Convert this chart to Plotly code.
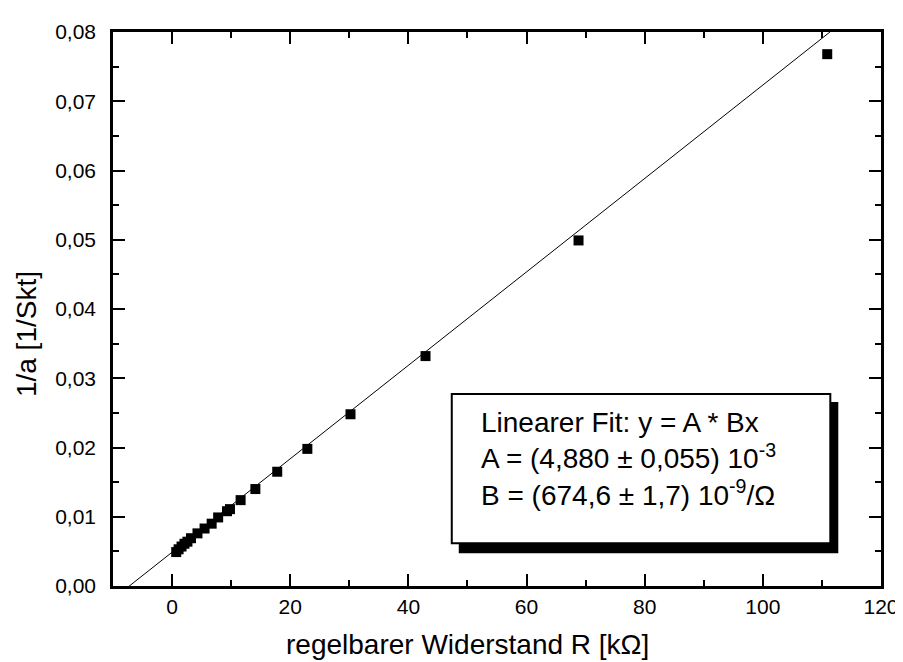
import plotly.graph_objects as go

# Measured data (R in kOhm, 1/a in 1/Skt)
r_kohm = [0.7, 1.1, 1.6, 2.1, 2.6, 3.2, 4.3, 5.5, 6.7, 7.8, 9.3, 9.8,
          11.6, 14.1, 17.8, 22.9, 30.2, 42.9, 68.8, 110.9]
inv_a = [0.0049, 0.0053, 0.0057, 0.0061, 0.0064, 0.0069, 0.0076, 0.0083,
         0.0090, 0.0099, 0.0108, 0.0111, 0.0124, 0.0140, 0.0165, 0.0198,
         0.0248, 0.0332, 0.0499, 0.0768]

# Linear fit parameters as given on the chart: y = A + B*x
fit_A = 4.880e-3
fit_B = 674.6e-9 * 1e3   # per kOhm
fit_x = [-7.3, 113.0]
fit_y = [fit_A + fit_B * x for x in fit_x]

x_ticks = [0, 20, 40, 60, 80, 100, 120]
y_ticks = [0.00, 0.01, 0.02, 0.03, 0.04, 0.05, 0.06, 0.07, 0.08]

legend_lines = [
    "Linearer Fit: y = A * Bx",
    "A = (4,880 ± 0,055) 10<sup>-3</sup>",
    "B = (674,6 ± 1,7) 10<sup>-9</sup>/Ω",
]

FONT = "Liberation Sans, Arial, sans-serif"

fig = go.Figure()
fig.add_trace(go.Scatter(x=fit_x, y=fit_y, mode="lines",
                         line=dict(color="black", width=1), hoverinfo="skip"))
fig.add_trace(go.Scatter(x=r_kohm, y=inv_a, mode="markers",
                         marker=dict(symbol="square", size=10, color="black",
                                     line=dict(width=0))))

axis_common = dict(
    showgrid=False, zeroline=False, showline=True, linecolor="black",
    linewidth=2.5, mirror="ticks", ticks="inside", ticklen=12, tickwidth=2,
    tickcolor="black", tickfont=dict(family=FONT, size=21, color="black"),
)

fig.update_xaxes(range=[-10, 120], tickvals=x_ticks, tickformat="d",
                 minor=dict(dtick=10, ticks="inside", ticklen=6, tickwidth=2,
                            tickcolor="black"),
                 ticklabelstandoff=0,
                 **axis_common)
fig.update_yaxes(range=[0, 0.08], tickvals=y_ticks, tickformat=".2f",
                 minor=dict(dtick=0.005, ticks="inside", ticklen=6, tickwidth=2,
                            tickcolor="black"),
                 ticklabelstandoff=10,
                 **axis_common)

# shadow + box for fit results
fig.add_shape(type="rect", xref="paper", yref="paper",
              x0=0.4502, x1=0.9444, y0=0.0592, y1=0.3321,
              fillcolor="black", line=dict(width=0), layer="above")
fig.add_shape(type="rect", xref="paper", yref="paper",
              x0=0.4411, x1=0.934, y0=0.0772, y1=0.3465,
              fillcolor="white", line=dict(color="black", width=2), layer="above")

fig.add_annotation(xref="paper", yref="paper", x=0.476, y=0.2298,
                   xanchor="left", yanchor="middle", align="left",
                   text="<br>".join(legend_lines), showarrow=False,
                   font=dict(family=FONT, size=28, color="black"))

fig.add_annotation(xref="paper", yref="paper", x=0.4618, y=-0.106,
                   xanchor="center", yanchor="middle",
                   text="regelbarer Widerstand R [kΩ]", showarrow=False,
                   font=dict(family=FONT, size=28, color="black"))
fig.add_annotation(xref="paper", yref="paper", x=-0.1125, y=0.454,
                   xanchor="center", yanchor="middle", textangle=-90,
                   text="1/a [1/Skt]", showarrow=False,
                   font=dict(family=FONT, size=28, color="black"))

fig.update_layout(
    width=903, height=662,
    margin=dict(l=105, r=25, t=21, b=84),
    paper_bgcolor="white", plot_bgcolor="white",
    showlegend=False, separators=", ",
    font=dict(family=FONT, color="black"),
)

fig.write_html("out.html")
